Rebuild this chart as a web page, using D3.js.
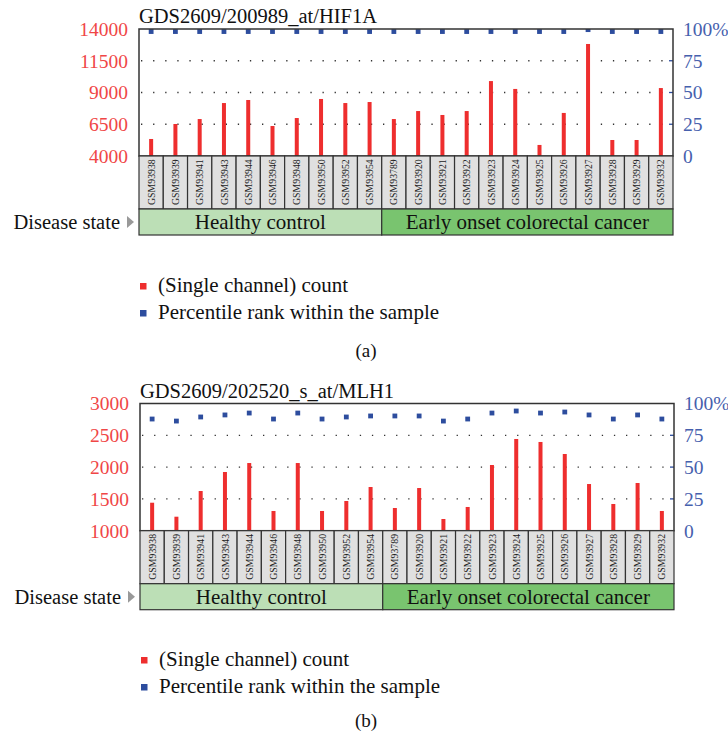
<!DOCTYPE html>
<html>
<head>
<meta charset="utf-8">
<script src="https://cdn.jsdelivr.net/npm/d3@7"></script>
<style>
  body { margin: 0; background: #fff; }
</style>
</head>
<body>
<svg id="chart" width="728" height="739" font-family="Liberation Serif"></svg>
<script>
// sample ids, shared by both panels
var samples = ["GSM93938", "GSM93939", "GSM93941", "GSM93943", "GSM93944", "GSM93946",
  "GSM93948", "GSM93950", "GSM93952", "GSM93954", "GSM93789", "GSM93920", "GSM93921",
  "GSM93922", "GSM93923", "GSM93924", "GSM93925", "GSM93926", "GSM93927", "GSM93928",
  "GSM93929", "GSM93932"];
var groupNames = ["Healthy control", "Early onset colorectal cancer"];
var groupSizes = [10, 12];

// (a) HIF1A
var hif1aCount = [5340, 6520, 6910, 8170, 8410, 6360, 6990, 8490, 8170, 8250,
  6910, 7540, 7230, 7540, 9900, 9280, 4870, 7390, 12820, 5260, 5260, 9350];
var hif1aRank = [98, 98, 98, 98, 98, 98, 98, 98, 98, 98,
  98, 98, 98, 98, 98, 98, 98, 98, 99.5, 98, 98, 98];
var hif1aTicks = [4000, 6500, 9000, 11500, 14000];

// (b) MLH1
var mlh1Count = [1440, 1220, 1624, 1923, 2064, 1310, 2064, 1310, 1467, 1687,
  1357, 1671, 1184, 1373, 2033, 2442, 2395, 2206, 1734, 1420, 1750, 1310];
var mlh1Rank = [87.8, 86.2, 89.4, 91, 92.5, 87.8, 92.5, 87.8, 89.4, 90.2,
  90.2, 90.2, 86.2, 87.8, 92.5, 94.1, 92.5, 93.3, 91, 87.8, 91, 87.8];
var mlh1Ticks = [1000, 1500, 2000, 2500, 3000];

var rankTicks = [0, 25, 50, 75, 100];

var red = "#ee2e2e", blue = "#2d4d9e";
var redText = "#f04646", blueText = "#4660ad";

var svg = d3.select("#chart");

drawPanel({
  id: "a", title: "GDS2609/200989_at/HIF1A", count: hif1aCount, rank: hif1aRank,
  ticks: hif1aTicks, left: 139, right: 673, top: 29, bottom: 156,
  legendY: 283, caption: "(a)", captionY: 357
});
drawPanel({
  id: "b", title: "GDS2609/202520_s_at/MLH1", count: mlh1Count, rank: mlh1Rank,
  ticks: mlh1Ticks, left: 140, right: 674, top: 403.5, bottom: 530.7,
  legendY: 657, caption: "(b)", captionY: 727
});

function drawPanel(p) {
  var g = svg.append("g");

  var x = d3.scaleBand().domain(samples).range([p.left, p.right]);
  var bw = x.bandwidth();
  var y = d3.scaleLinear().domain(d3.extent(p.ticks)).range([p.bottom, p.top]);
  var yr = d3.scaleLinear().domain([0, 100]).range([p.bottom, p.top]);

  // title
  g.append("text")
    .attr("x", p.left).attr("y", p.top - 6)
    .attr("font-size", 20.5).attr("fill", "#111")
    .text(p.title);

  // dotted grid
  g.append("g").selectAll("line")
    .data(p.ticks.slice(1, -1))
    .enter().append("line")
    .attr("x1", p.left + 2).attr("x2", p.right)
    .attr("y1", function(d) { return y(d); })
    .attr("y2", function(d) { return y(d); })
    .attr("stroke", "#333").attr("stroke-width", 1.3)
    .attr("stroke-dasharray", "1.3,10.8");

  // small blue ticks on the right edge
  g.append("g").selectAll("line")
    .data(rankTicks.slice(1, -1))
    .enter().append("line")
    .attr("x1", p.right - 4).attr("x2", p.right)
    .attr("y1", function(d) { return yr(d); })
    .attr("y2", function(d) { return yr(d); })
    .attr("stroke", blue).attr("stroke-width", 1.3);

  // bars
  g.append("g").selectAll("rect")
    .data(p.count)
    .enter().append("rect")
    .attr("x", function(d, i) { return x(samples[i]) + bw / 2 - 2; })
    .attr("y", function(d) { return y(d); })
    .attr("width", 4)
    .attr("height", function(d) { return p.bottom - y(d); })
    .attr("fill", red);

  // percentile markers, clipped to the frame
  g.append("clipPath").attr("id", "clip" + p.id)
    .append("rect")
    .attr("x", p.left).attr("y", p.top)
    .attr("width", p.right - p.left).attr("height", p.bottom - p.top);

  g.append("g").attr("clip-path", "url(#clip" + p.id + ")")
    .selectAll("rect")
    .data(p.rank)
    .enter().append("rect")
    .attr("x", function(d, i) { return x(samples[i]) + bw / 2 - 2.4; })
    .attr("y", function(d) { return yr(d) - 2.4; })
    .attr("width", 4.8).attr("height", 4.8)
    .attr("fill", blue);

  // frame
  g.append("rect")
    .attr("x", p.left).attr("y", p.top)
    .attr("width", p.right - p.left).attr("height", p.bottom - p.top)
    .attr("fill", "none").attr("stroke", "#333").attr("stroke-width", 1.5);

  // left axis labels
  g.append("g").selectAll("text")
    .data(p.ticks)
    .enter().append("text")
    .attr("x", p.left - 11)
    .attr("y", function(d) { return y(d); })
    .attr("dy", "0.35em")
    .attr("text-anchor", "end")
    .attr("font-size", 19.5)
    .attr("fill", redText)
    .text(function(d) { return d; });

  // right axis labels
  g.append("g").selectAll("text")
    .data(rankTicks)
    .enter().append("text")
    .attr("x", p.right + 10)
    .attr("y", function(d) { return yr(d); })
    .attr("dy", "0.35em")
    .attr("font-size", 19.5)
    .attr("fill", blueText)
    .text(function(d) { return d == 100 ? "100%" : d; });

  // sample name cells
  var cellTop = p.bottom, cellBottom = p.bottom + 53;
  var cells = g.append("g").selectAll("g")
    .data(samples)
    .enter().append("g");
  cells.append("rect")
    .attr("x", function(d) { return x(d); })
    .attr("y", cellTop)
    .attr("width", bw).attr("height", cellBottom - cellTop)
    .attr("fill", "#e0e0e0").attr("stroke", "#333").attr("stroke-width", 1.2);
  cells.append("text")
    .attr("transform", function(d) {
      return "translate(" + (x(d) + bw / 2 + 3.6) + "," + (cellBottom - 4) + ") rotate(-90)";
    })
    .attr("font-size", 9.8).attr("fill", "#222")
    .text(function(d) { return d; });

  // disease state band
  var bandTop = cellBottom, bandBottom = cellBottom + 26;
  var start = 0;
  var bandColors = ["#bcdfb6", "#79c46f"];
  groupNames.forEach(function(name, k) {
    var x0 = x(samples[start]);
    var x1 = x(samples[start + groupSizes[k] - 1]) + bw;
    g.append("rect")
      .attr("x", x0).attr("y", bandTop)
      .attr("width", x1 - x0).attr("height", bandBottom - bandTop)
      .attr("fill", bandColors[k]).attr("stroke", "#333").attr("stroke-width", 1.2);
    g.append("text")
      .attr("x", (x0 + x1) / 2).attr("y", bandTop + 20)
      .attr("text-anchor", "middle")
      .attr("font-size", 21).attr("fill", "#111")
      .text(name);
    start += groupSizes[k];
  });

  g.append("text")
    .attr("x", p.left - 19).attr("y", bandTop + 20)
    .attr("text-anchor", "end")
    .attr("font-size", 20.5).attr("fill", "#111")
    .text("Disease state");
  g.append("path")
    .attr("d", "M" + (p.left - 12) + "," + (bandTop + 7) + "l7,6l-7,6z")
    .attr("fill", "#999");

  // legend
  var legend = [["(Single channel) count", red], ["Percentile rank within the sample", blue]];
  legend.forEach(function(l, k) {
    var ly = p.legendY + k * 27;
    g.append("rect")
      .attr("x", p.left + 1).attr("y", ly)
      .attr("width", 6.5).attr("height", 6.5)
      .attr("fill", l[1]);
    g.append("text")
      .attr("x", p.left + 19).attr("y", ly + 8.5)
      .attr("font-size", 21).attr("fill", "#111")
      .text(l[0]);
  });

  g.append("text")
    .attr("x", 366).attr("y", p.captionY)
    .attr("text-anchor", "middle")
    .attr("font-size", 19).attr("fill", "#111")
    .text(p.caption);
}
</script>
</body>
</html>
